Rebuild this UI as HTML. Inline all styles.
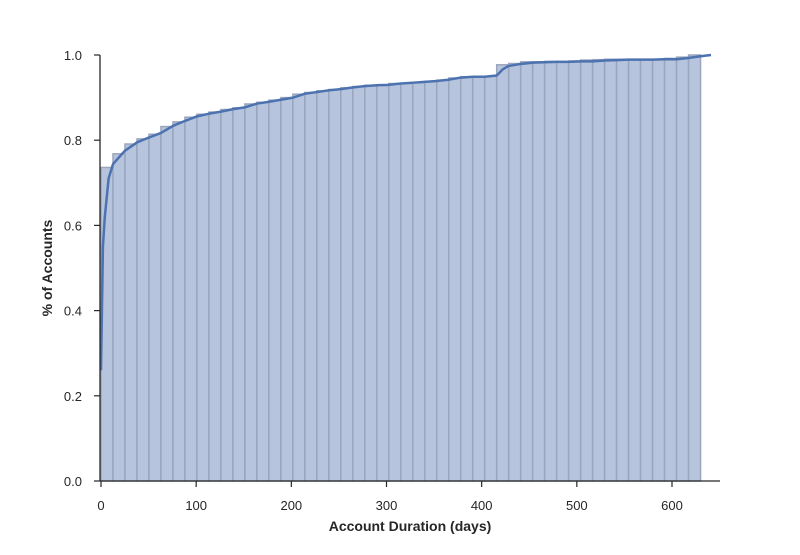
<!DOCTYPE html>
<html><head><meta charset="utf-8"><style>
body{margin:0;background:#fff;}
svg text{font-family:"Liberation Sans",Arial,sans-serif;fill:#262626;}
</style></head><body>
<svg id="chart" width="800" height="550" xmlns="http://www.w3.org/2000/svg">
<g id="bars"></g>
<g id="line"></g>
<g id="axes"></g>
<text x="410" y="531" text-anchor="middle" font-size="14" font-weight="bold">Account Duration (days)</text>
<text transform="translate(52,268) rotate(-90)" text-anchor="middle" font-size="14" font-weight="bold">% of Accounts</text>
</svg>
<script>
const binWidth = 12.6;
const barValues = [0.736,0.768,0.791,0.803,0.814,0.832,0.843,0.854,0.861,0.866,0.872,0.876,0.885,0.889,0.894,0.900,0.908,0.912,0.916,0.919,0.923,0.926,0.929,0.930,0.933,0.933,0.935,0.938,0.941,0.946,0.949,0.949,0.950,0.977,0.980,0.984,0.984,0.985,0.985,0.986,0.988,0.989,0.990,0.990,0.990,0.990,0.990,0.992,0.995,1.0];
const lineDays = [0,2,4,8,12.6,25,38,50,63,76,88,101,113,126,139,151,164,176,189,202,214,227,239,252,265,277,290,302,315,328,340,353,365,378,391,403,416,422,428,441,454,466,479,491,504,517,529,542,554,567,580,592,605,617,630,641];
const lineValues = [0.26,0.55,0.62,0.71,0.744,0.775,0.795,0.806,0.817,0.834,0.845,0.856,0.862,0.867,0.873,0.877,0.886,0.890,0.895,0.900,0.909,0.913,0.917,0.920,0.924,0.927,0.929,0.930,0.933,0.935,0.937,0.939,0.942,0.947,0.949,0.949,0.952,0.966,0.974,0.979,0.982,0.983,0.984,0.984,0.985,0.985,0.987,0.988,0.989,0.989,0.989,0.990,0.990,0.993,0.997,1.0];
const xTicks = [0,100,200,300,400,500,600];
const yTicks = [0.0,0.2,0.4,0.6,0.8,1.0];
const NS="http://www.w3.org/2000/svg";
const x = d => 101 + d*(571/600);
const y = v => 481 - v*426;
function mk(tag, attrs, parent){const e=document.createElementNS(NS,tag);for(const k in attrs)e.setAttribute(k,attrs[k]);parent.appendChild(e);return e;}
const gb=document.getElementById('bars');
barValues.forEach((v,i)=>{
  const x0=x(i*binWidth), x1=x((i+1)*binWidth);
  const r=mk('rect',{x:x0,y:y(v),width:x1-x0,height:y(0)-y(v),fill:'#b6c4de',stroke:'#9aa6bc','stroke-width':1.5},gb);
  
  
});
const gl=document.getElementById('line');
const pts=lineDays.map((d,i)=>x(d)+','+y(lineValues[i])).join(' ');
const pl=mk('polyline',{points:pts,fill:'none',stroke:'#4c72b0','stroke-width':2.5,'stroke-linejoin':'round'},gl);


const ga=document.getElementById('axes');
mk('line',{x1:100,y1:55,x2:100,y2:481,stroke:'#262626','stroke-width':1.3},ga);
mk('line',{x1:100,y1:481,x2:720,y2:481,stroke:'#262626','stroke-width':1.3},ga);
xTicks.forEach(t=>{
  mk('line',{x1:x(t),y1:481,x2:x(t),y2:487,stroke:'#262626','stroke-width':1.2},ga);
  const tx=mk('text',{x:x(t),y:510,'text-anchor':'middle','font-size':13},ga);
  tx.textContent=t;
  
  
});
yTicks.forEach(t=>{
  mk('line',{x1:94,y1:y(t),x2:100,y2:y(t),stroke:'#262626','stroke-width':1.2},ga);
  const tx=mk('text',{x:82,y:y(t)+5,'text-anchor':'end','font-size':13},ga);
  tx.textContent=t.toFixed(1);
  
  
});
</script>
</body></html>
